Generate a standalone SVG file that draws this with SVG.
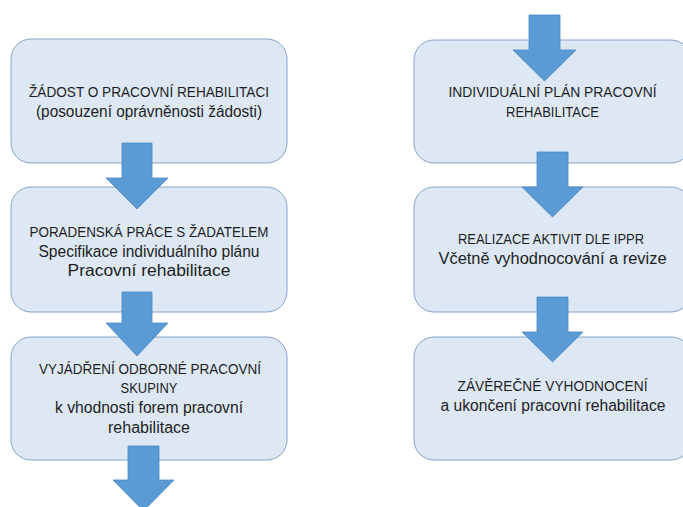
<svg xmlns="http://www.w3.org/2000/svg" width="683" height="507" viewBox="0 0 683 507">
<style>
.box{fill:#dde8f4;stroke:#86a4c9;stroke-width:1}
.arr{fill:#5b9bd5;stroke:#4c88c1;stroke-width:0.8;stroke-linejoin:miter}
text{font-family:"Liberation Sans",Arial,sans-serif;font-size:15px;fill:#1e1e1e;text-anchor:middle}
text.lc{font-size:16px}
</style>
<rect width="683" height="507" fill="#ffffff"/>
<g id="n1">
<rect class="box" x="11" y="39" width="276" height="124" rx="20"/>
<text x="149" y="97" textLength="240" lengthAdjust="spacingAndGlyphs">ŽÁDOST O PRACOVNÍ REHABILITACI</text>
<text class="lc" x="149" y="117" textLength="226" lengthAdjust="spacingAndGlyphs">(posouzení oprávněnosti žádosti)</text>
</g>
<g id="n2">
<rect class="box" x="11" y="187" width="276" height="125" rx="20"/>
<text x="149" y="237" textLength="239" lengthAdjust="spacingAndGlyphs">PORADENSKÁ PRÁCE S ŽADATELEM</text>
<text class="lc" x="149" y="256.5" textLength="221" lengthAdjust="spacingAndGlyphs">Specifikace individuálního plánu</text>
<text class="lc" x="149" y="276" textLength="163" lengthAdjust="spacingAndGlyphs">Pracovní rehabilitace</text>
</g>
<g id="n3">
<rect class="box" x="11" y="337" width="276" height="123" rx="20"/>
<text x="150" y="373.5" textLength="222" lengthAdjust="spacingAndGlyphs">VYJÁDŘENÍ ODBORNÉ PRACOVNÍ</text>
<text x="149" y="393" textLength="57" lengthAdjust="spacingAndGlyphs">SKUPINY</text>
<text class="lc" x="149" y="413" textLength="188" lengthAdjust="spacingAndGlyphs">k vhodnosti forem pracovní</text>
<text class="lc" x="149" y="432.5" textLength="82" lengthAdjust="spacingAndGlyphs">rehabilitace</text>
</g>
<g id="n4">
<rect class="box" x="414" y="40" width="277" height="123" rx="20"/>
<text x="552.5" y="97" textLength="208" lengthAdjust="spacingAndGlyphs">INDIVIDUÁLNÍ PLÁN PRACOVNÍ</text>
<text x="552.5" y="116.5" textLength="93" lengthAdjust="spacingAndGlyphs">REHABILITACE</text>
</g>
<g id="n5">
<rect class="box" x="414" y="187" width="277" height="125" rx="20"/>
<text x="551" y="244" textLength="186" lengthAdjust="spacingAndGlyphs">REALIZACE AKTIVIT DLE IPPR</text>
<text class="lc" x="552.5" y="264" textLength="228" lengthAdjust="spacingAndGlyphs">Včetně vyhodnocování a revize</text>
</g>
<g id="n6">
<rect class="box" x="414" y="337" width="277" height="123" rx="20"/>
<text x="552.5" y="391" textLength="190" lengthAdjust="spacingAndGlyphs">ZÁVĚREČNÉ VYHODNOCENÍ</text>
<text class="lc" x="553" y="411" textLength="225" lengthAdjust="spacingAndGlyphs">a ukončení pracovní rehabilitace</text>
</g>
<g id="connectors">
<polygon class="arr" points="122,143 152,143 152,178 168,178 137,209 106,178 122,178"/>
<polygon class="arr" points="122,292 152,292 152,323 168,323 137,356 106,323 122,323"/>
<polygon class="arr" points="128,446 159,446 159,480 174,480 143.5,511 113,480 128,480"/>
<polygon class="arr" points="529,15 560,15 560,50 576,50 544.5,81 513,50 529,50"/>
<polygon class="arr" points="537,152 568,152 568,187 583,187 552.5,217 522,187 537,187"/>
<polygon class="arr" points="537,297 568,297 568,332 583,332 552.5,362 522,332 537,332"/>
</g>
</svg>
